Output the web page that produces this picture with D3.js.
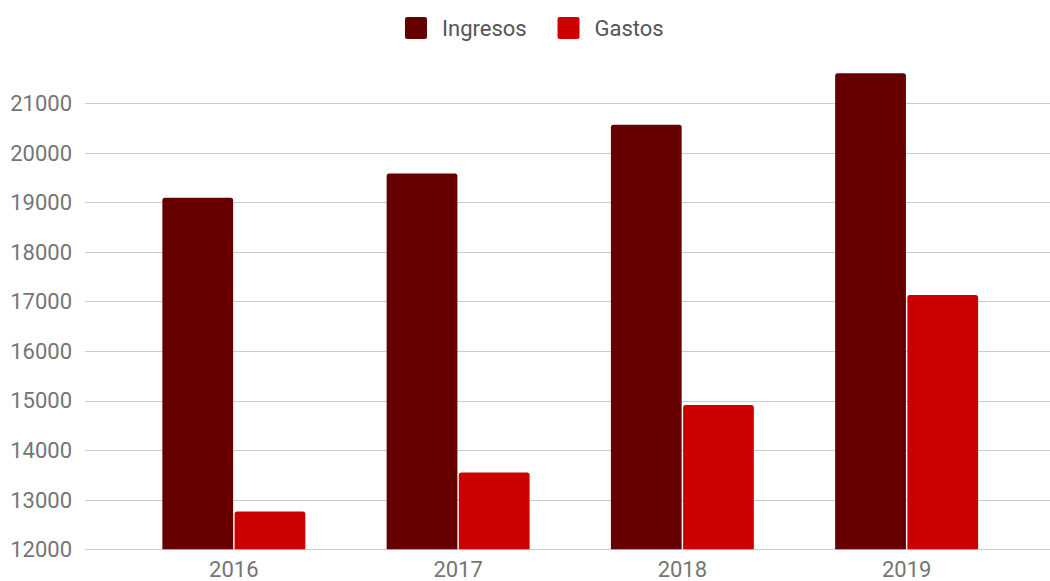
<html>
  <head>
    <style>
      body { margin: 0; background: #fff; }
      text { font-family: Roboto, sans-serif; fill: #757575; }
    </style>
  </head>
  <body>
    <script src="https://d3js.org/d3.v7.min.js"></script>

    <svg id="chart" width="1050" height="581"></svg>

    <script>
      const years = ['2016', '2017', '2018', '2019'];
      const ingresos = [19090, 19580, 20560, 21600];
      const gastos = [12760, 13550, 14910, 17130];
      const seriesNames = ['Ingresos', 'Gastos'];
      const seriesColors = ['#660000', '#cc0000'];
      const yTicks = [12000, 13000, 14000, 15000, 16000, 17000, 18000, 19000, 20000, 21000];

      const rows = years.map((y, i) => ({ year: y, values: [ingresos[i], gastos[i]] }));

      const svg = d3.select('#chart');

      const x = d3.scaleBand().domain(years).range([85, 1055.5])
        .paddingInner(0.3625).paddingOuter(0.345);
      const xInner = d3.scaleBand().domain(seriesNames).range([0, x.bandwidth()]).paddingInner(0.02);
      const y = d3.scaleLinear().domain([12000, 21000]).range([549.3, 103]);

      // gridlines
      svg.append('g')
        .selectAll('line')
        .data(yTicks)
        .enter()
        .append('line')
        .attr('x1', 85)
        .attr('x2', 1050)
        .attr('y1', (d) => Math.round(y(d)) + 0.5)
        .attr('y2', (d) => Math.round(y(d)) + 0.5)
        .attr('stroke', '#cccccc')
        .attr('stroke-width', 1.2);

      // y labels
      svg.append('g')
        .selectAll('text')
        .data(yTicks)
        .enter()
        .append('text')
        .text((d) => d)
        .attr('x', 72)
        .attr('y', (d) => y(d))
        .attr('dy', '0.36em')
        .attr('text-anchor', 'end')
        .style('font-size', '22px');

      // rounded-top bar path
      const barPath = (x0, w, top, bottom) => {
        const r = 2.5;
        return `M${x0},${bottom}V${top + r}Q${x0},${top} ${x0 + r},${top}` +
          `H${x0 + w - r}Q${x0 + w},${top} ${x0 + w},${top + r}V${bottom}Z`;
      };

      const groups = svg.append('g')
        .selectAll('g')
        .data(rows)
        .enter()
        .append('g')
        .attr('transform', (d) => `translate(${x(d.year)},0)`);

      groups.selectAll('path')
        .data((d) => d.values.map((v, i) => ({ name: seriesNames[i], value: v, color: seriesColors[i] })))
        .enter()
        .append('path')
        .attr('d', (d) => barPath(xInner(d.name), xInner.bandwidth(), y(d.value), y(12000)))
        .attr('fill', (d) => d.color);

      // x labels
      svg.append('g')
        .selectAll('text')
        .data(years)
        .enter()
        .append('text')
        .text((d) => d)
        .attr('x', (d) => x(d) + x.bandwidth() / 2)
        .attr('y', 577)
        .attr('text-anchor', 'middle')
        .style('font-size', '22px');

      // legend
      const legendX = [405, 557.5];
      const legend = svg.append('g')
        .selectAll('g')
        .data(seriesNames)
        .enter()
        .append('g')
        .attr('transform', (_, i) => `translate(${legendX[i]},17)`);

      legend.append('rect')
        .attr('width', 22)
        .attr('height', 22)
        .attr('rx', 2)
        .attr('fill', (_, i) => seriesColors[i]);

      legend.append('text')
        .text((d) => d)
        .attr('x', 37)
        .attr('y', 11)
        .attr('dy', '0.36em')
        .style('font-size', '22px')
        .style('fill', '#555');
    </script>
  </body>
</html>
